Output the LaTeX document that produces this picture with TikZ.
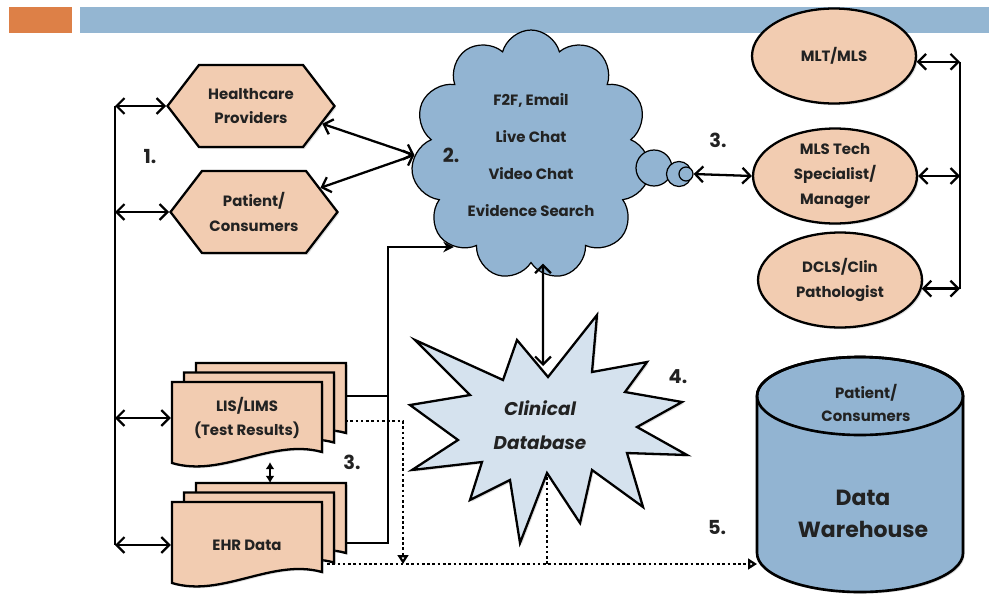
\documentclass[tikz,border=0pt]{standalone}
\usepackage{fontspec}
\setmainfont{Poppins}
\usetikzlibrary{shapes.geometric,shapes.symbols,arrows.meta,shadows}
\definecolor{barorange}{RGB}{221,128,71}
\definecolor{barblue}{RGB}{148,182,210}
\definecolor{peach}{RGB}{242,204,177}
\definecolor{cloudblue}{RGB}{146,180,210}
\definecolor{starblue}{RGB}{213,226,238}
\definecolor{ink}{RGB}{34,34,34}
\begin{document}
\begin{tikzpicture}[x=0.02cm,y=-0.02cm,line width=1.3pt,
  >={Straight Barb[length=4.5pt,width=9pt]},
  every node/.style={font=\fontsize{8.5}{14}\selectfont\bfseries,text=ink,align=center},
  softshadow/.style={drop shadow={opacity=0.25,shadow xshift=1pt,shadow yshift=-1pt}},
  hexbox/.style={signal,signal to=west and east,signal pointer angle=105,draw,fill=peach,
    minimum width=3.34cm,minimum height=1.64cm,inner sep=0pt,softshadow},
  ovalbox/.style={ellipse,draw,fill=peach,minimum width=3.28cm,minimum height=1.9cm,inner sep=0pt,softshadow},
  pagebox/.style={draw,fill=peach,softshadow},
  numlabel/.style={font=\fontsize{11}{13}\selectfont\bfseries},
  dots/.style={dash pattern=on 1.5pt off 1.5pt}]
\useasboundingbox (0,0) rectangle (989,595);
\fill[barorange] (9,7) rectangle (72,33);
\fill[barblue] (80,7) rectangle (989,33);

\node[hexbox] (hcp) at (251,106) {Healthcare\\Providers};
\node[hexbox] (pat) at (254,212) {Patient/\\Consumers};

\node[cloud,cloud puffs=11,cloud ignores aspect,draw,line width=0.7pt,fill=cloudblue,
  minimum width=4.8cm,minimum height=5cm] (chat) at (531,155)
  {F2F, Email\\[7pt]Live Chat\\[7pt]Video Chat\\[7pt]Evidence Search};
\node[circle,draw,line width=0.7pt,fill=cloudblue,minimum size=0.72cm,inner sep=0pt] (bub1) at (654,168) {};
\node[circle,draw,line width=0.7pt,fill=cloudblue,minimum size=0.5cm,inner sep=0pt] (bub2) at (679,174) {};
\node[circle,draw,line width=0.7pt,fill=cloudblue,minimum size=0.28cm,inner sep=0pt] (bub3) at (686,174) {};

\node[ovalbox] (mlt) at (834,56) {MLT/MLS};
\node[ovalbox] (tech) at (835,176) {MLS Tech\\Specialist/\\Manager};
\node[ovalbox] (dcls) at (840,280) {DCLS/Clin\\Pathologist};

\foreach \top in {382,502}
  \foreach \d in {2,1,0}
    \draw[pagebox,shift={(12*\d,-9.5*\d)}] (172,\top) -- (322,\top) -- (322,\top+70)
      .. controls (272,\top+56) and (222,\top+96) .. (172,\top+81) -- cycle;
\node[minimum width=3cm] (lis) at (247,418) {LIS/LIMS\\(Test Results)};
\node[minimum width=3cm] (ehr) at (247,545) {EHR Data};

\draw[fill=starblue,softshadow] (415,340) -- (503,380) -- (517,340) -- (548,377) -- (597,315) -- (592,372)
  -- (647,362) -- (625,392) -- (682,402) -- (637,427) -- (687,455) -- (627,453) -- (643,507)
  -- (592,470) -- (580,523) -- (547,473) -- (520,543) -- (510,480) -- (470,500) -- (482,462)
  -- (412,470) -- (458,440) -- (410,405) -- (470,395) -- cycle;
\node[font=\fontsize{10.5}{19}\selectfont\bfseries\itshape] (db) at (540,425) {Clinical\\Database};

\draw[line width=1.5pt,fill=cloudblue,softshadow] (757,396) -- (757,553) arc[start angle=180,end angle=0,x radius=103,y radius=39]
  -- (963,396) arc[start angle=0,end angle=-180,x radius=103,y radius=39] -- cycle;
\draw[line width=1.5pt] (860,396) ellipse[x radius=103,y radius=39];
\node[font=\fontsize{8.5}{13}\selectfont\bfseries] (dwtop) at (866,403) {Patient/\\Consumers};
\node[font=\fontsize{12.5}{18}\selectfont\bfseries] (dw) at (863,514) {Data\\Warehouse};

\node[numlabel] (n1) at (150,157) {1.};
\node[numlabel] (n2) at (451,155) {2.};
\node[numlabel] (n3a) at (718,140) {3.};
\node[numlabel] (n3b) at (352,462) {3.};
\node[numlabel] (n4) at (678,377) {4.};
\node[numlabel] (n5) at (717,528) {5.};

\coordinate (lbus) at (115,0);
\coordinate (rbus) at (960,0);
\coordinate (jn) at (388,0);
\coordinate (drop) at (403,0);
\coordinate (lisR) at (345,396);
\coordinate (ehrR) at (345,543);
\coordinate (lisdot) at (345,421);
\coordinate (ehrdot) at (327,564);
\coordinate (lisbot) at (270,462);
\coordinate (ehrtop) at (270,483);
\coordinate (dbtop) at (543,366);
\coordinate (dbbot) at (547,477);
\coordinate (dwin) at (757,564);

\draw (hcp.west -| lbus) -- (ehr.west -| lbus);
\draw[<->] (hcp.west -| lbus) -- (hcp.west);
\draw[<->] (pat.west -| lbus) -- (pat.west);
\draw[<->] (lis.west -| lbus) -- (lis.west);
\draw[<->] (ehr.west -| lbus) -- (ehr.west);
\draw[<->] (hcp.-14) -- (chat.west);
\draw[<->] (pat.20) -- (chat.west);
\draw[<->] ([xshift=0.24cm]chat.south) -- (dbtop);
\draw[<->] (bub3.east) -- (tech.west);
\draw (mlt.-4 -| rbus) -- (dcls.-6 -| rbus);
\draw[<->] (mlt.-4) -- (mlt.-4 -| rbus);
\draw[<->] (tech.east) -- (tech.east -| rbus);
\draw[<->] (dcls.-6) -- (dcls.-6 -| rbus);
\draw (lisR) -- (lisR -| jn);
\draw[-{Stealth[length=6pt,width=6pt]}] (ehrR) -| (jn |- chat.230) -- (chat.230);
\draw[{Latex[length=4pt,width=5pt]}-{Latex[length=4pt,width=5pt]}] (lisbot) -- (ehrtop);
\draw[dots,-{Triangle[open,length=5pt,width=6pt]}] (lisdot) -| (drop |- ehrdot);
\draw[dots,-{Triangle[open,length=5pt,width=6pt]}] (ehrdot) -- (dwin);
\draw[dots] (dbbot) -- (dbbot |- ehrdot);
\end{tikzpicture}
\end{document}
